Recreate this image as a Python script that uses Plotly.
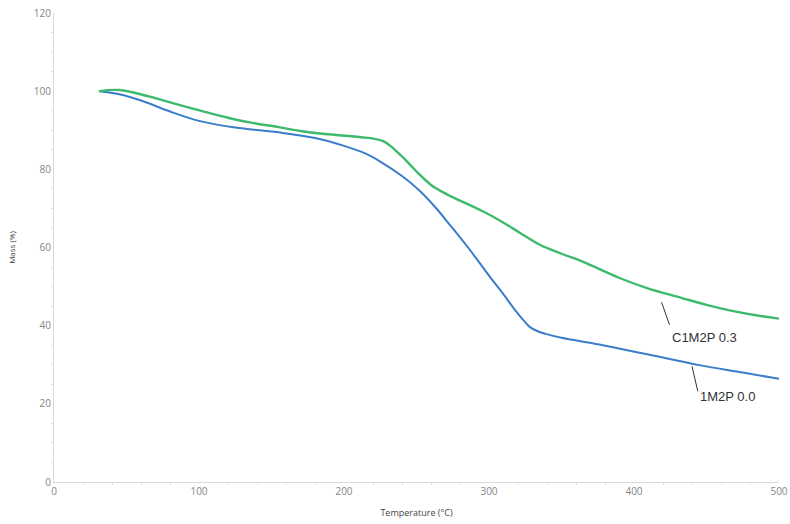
"""TGA mass loss curves for two samples."""

import plotly.graph_objects as go

# Sample 1M2P 0.0 (blue)
temp_1m2p = [31, 45, 60, 80, 100, 125, 156, 180, 200, 215, 225, 240, 252, 263, 273, 287, 300, 310, 318, 324, 328, 334, 339, 350, 376, 410, 445, 475, 500]
mass_1m2p = [100, 99.2, 97.6, 94.8, 92.4, 90.7, 89.4, 88.0, 86.0, 84.0, 82.0, 78.3, 74.6, 70.3, 65.8, 59.3, 52.8, 48.0, 44.0, 41.3, 39.7, 38.5, 37.9, 36.9, 35.2, 32.6, 29.9, 28.0, 26.4]

# Sample C1M2P 0.3 (green)
temp_c1m2p = [31, 45, 66, 85, 101, 120, 135, 155, 170, 185, 201, 212, 221, 227, 232, 238, 244, 252, 260, 270, 280, 295, 308, 322, 335, 350, 365, 390, 410, 432, 450, 466, 485, 500]
mass_c1m2p = [100, 100.3, 98.6, 96.6, 95.0, 93.2, 92.0, 90.8, 89.8, 89.1, 88.6, 88.2, 87.8, 87.2, 86.0, 84.0, 81.8, 78.7, 76.0, 73.8, 72.0, 69.4, 66.8, 63.6, 60.7, 58.4, 56.3, 52.2, 49.5, 47.2, 45.3, 43.9, 42.6, 41.8]

fig = go.Figure()

fig.add_trace(
    go.Scatter(
        x=temp_1m2p,
        y=mass_1m2p,
        mode="lines",
        name="1M2P 0.0",
        line=dict(color="#3a7dca", width=2, shape="spline"),
    )
)
fig.add_trace(
    go.Scatter(
        x=temp_c1m2p,
        y=mass_c1m2p,
        mode="lines",
        name="C1M2P 0.3",
        line=dict(color="#3dba6c", width=2.4, shape="spline"),
    )
)

# Leader lines for the curve labels
for x0, y0, x1, y1 in [(419, 46, 424.5, 40.2), (440, 29.6, 444, 23.2)]:
    fig.add_shape(
        type="line",
        x0=x0, y0=y0, x1=x1, y1=y1,
        line=dict(color="#333333", width=1),
    )

label_font = dict(family="Liberation Sans, Arial, sans-serif", size=13, color="#333333")
fig.add_annotation(x=424.5, y=37, text="C1M2P 0.3", showarrow=False, xanchor="left", font=label_font)
fig.add_annotation(x=444, y=22, text="1M2P 0.0", showarrow=False, xanchor="left", font=label_font)

axis_common = dict(
    showgrid=False,
    zeroline=False,
    showline=True,
    linecolor="#d9d9d9",
    linewidth=1,
    ticks="",
    automargin=False,
    tickfont=dict(family="Open Sans, Liberation Sans, sans-serif", size=10, color="#858585"),
)

fig.update_layout(
    width=790,
    height=524,
    margin=dict(l=54, r=11, t=13, b=42),
    plot_bgcolor="white",
    paper_bgcolor="white",
    showlegend=False,
    xaxis=dict(
        range=[0, 500],
        dtick=100,
        title=dict(
            text="Temperature (°C)",
            font=dict(family="Open Sans, Liberation Sans, sans-serif", size=9, color="#444444"),
            standoff=12,
        ),
        minor=dict(dtick=20, ticks="outside", ticklen=2, tickcolor="#dddddd"),
        **axis_common,
    ),
    yaxis=dict(
        range=[0, 120],
        dtick=20,
        title=dict(
            text="Mass (%)",
            font=dict(family="Open Sans, Liberation Sans, sans-serif", size=8, color="#444444"),
            standoff=17,
        ),
        minor=dict(dtick=5, ticks="outside", ticklen=2, tickcolor="#dddddd"),
        **axis_common,
    ),
)

# drop the default 8px body margin so the figure fills the window
fig.write_html(
    "out.html",
    config={"displayModeBar": False},
    post_script="document.body.style.margin='0';",
)
